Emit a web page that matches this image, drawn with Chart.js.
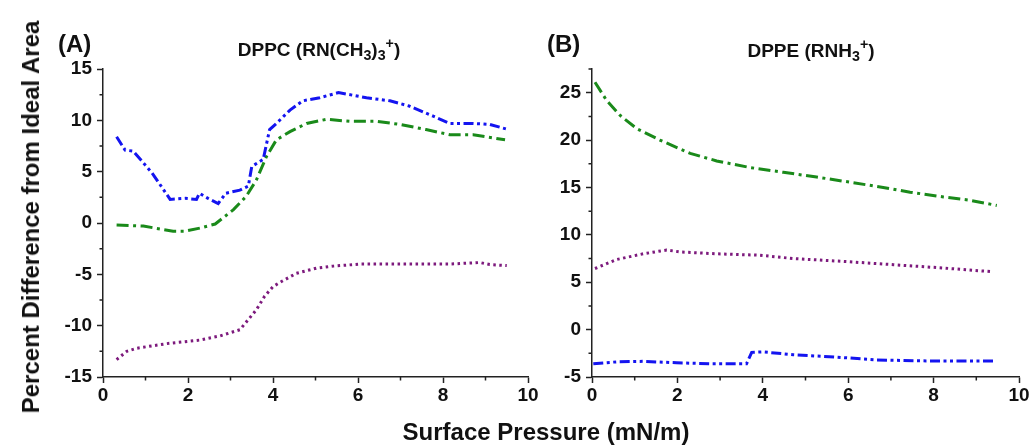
<!DOCTYPE html>
<html lang="en">
<head>
  <meta charset="UTF-8">
  <title>Percent Difference from Ideal Area</title>
  <script src="https://cdn.jsdelivr.net/npm/chart.js"></script>
  <style>
    body {
      margin: 0;
      background: #ffffff;
      font-family: 'Liberation Sans', Arial, sans-serif;
    }
    #wrap {
      position: relative;
      width: 1031px;
      height: 447px;
      overflow: hidden;
    }
    canvas { position: absolute; top: 0; }
    #chartA { left: 0; }
    #chartB { left: 545px; }
    .lbl {
      position: absolute;
      font-weight: bold;
      color: #111;
      white-space: nowrap;
      transform: translate(-50%, -50%);
      line-height: 1;
    }
    .lbl sub, .lbl sup { font-size: 0.75em; line-height: 0; }
    .panel-letter { font-size: 24px; transform: translate(0, -50%); }
    .panel-title { font-size: 19px; }
    .axis-title { font-size: 24px; }
    #yTitle { transform: translate(-50%, -50%) rotate(-90deg); }
  </style>
</head>
<body>
  <div id="wrap">
    <canvas id="chartA" width="545" height="447"></canvas>
    <canvas id="chartB" width="486" height="447"></canvas>

    <div class="lbl panel-letter" style="left:58px; top:44px;">(A)</div>
    <div class="lbl panel-title" style="left:319px; top:49px;">DPPC (RN(CH<sub>3</sub>)<sub>3</sub><sup>+</sup>)</div>
    <div class="lbl panel-letter" style="left:547px; top:44px;">(B)</div>
    <div class="lbl panel-title" style="left:811px; top:50px;">DPPE (RNH<sub>3</sub><sup>+</sup>)</div>

    <div class="lbl axis-title" id="yTitle" style="left:31px; top:217px;">Percent Difference from Ideal Area</div>
    <div class="lbl axis-title" style="left:546px; top:432px;">Surface Pressure (mN/m)</div>
  </div>

  <script>
    // Panel A - DPPC
    const aBlueX = [0.32, 0.52, 0.71, 1.15, 1.58, 1.93, 2.2, 2.27, 2.47, 2.71, 2.89, 3.22, 3.42, 3.5, 3.77, 3.92, 4.08, 4.4, 4.7, 5.1, 5.54, 6.2, 6.75, 7.2, 7.77, 8.16, 8.71, 9.1, 9.54];
    const aBlueY = [8.4, 7.1, 7.0, 4.9, 2.3, 2.4, 2.3, 2.9, 2.4, 1.9, 2.9, 3.2, 3.6, 5.5, 6.2, 9.1, 9.7, 11.0, 11.9, 12.2, 12.7, 12.2, 11.9, 11.4, 10.4, 9.7, 9.7, 9.6, 9.1];

    const aGreenX = [0.32, 0.95, 1.65, 1.93, 2.28, 2.64, 3.07, 3.37, 3.61, 3.85, 4.08, 4.4, 4.79, 5.26, 5.81, 6.44, 6.99, 7.6, 8.16, 8.71, 9.46];
    const aGreenY = [-0.2, -0.3, -0.8, -0.8, -0.5, -0.1, 1.3, 2.6, 4.2, 6.5, 8.1, 8.9, 9.7, 10.1, 9.9, 9.9, 9.6, 9.1, 8.6, 8.6, 8.1];

    const aPurpleX = [0.32, 0.56, 0.79, 1.5, 2.28, 2.75, 3.22, 3.42, 3.61, 3.8, 4.0, 4.2, 4.55, 5.02, 5.42, 6.05, 6.99, 8.16, 8.87, 9.1, 9.5];
    const aPurpleY = [-13.3, -12.5, -12.2, -11.75, -11.4, -11.0, -10.4, -9.4, -8.45, -7.15, -6.2, -5.7, -4.9, -4.4, -4.2, -4.0, -4.0, -4.0, -3.85, -4.05, -4.15];

    // Panel B - DPPE
    const bGreenX = [0.07, 0.34, 0.66, 1.05, 1.59, 2.3, 2.92, 3.7, 4.48, 5.26, 6.12, 6.82, 7.45, 8.23, 8.85, 9.48];
    const bGreenY = [26.1, 24.2, 22.6, 21.2, 20.0, 18.6, 17.8, 17.1, 16.6, 16.1, 15.5, 15.0, 14.5, 14.0, 13.65, 13.1];

    const bPurpleX = [0.07, 0.58, 1.2, 1.75, 2.06, 2.92, 3.93, 4.71, 5.88, 7.06, 8.23, 9.4];
    const bPurpleY = [6.45, 7.4, 8.0, 8.4, 8.2, 8.0, 7.85, 7.5, 7.2, 6.85, 6.5, 6.1];

    const bBlueX = [0.03, 0.58, 1.2, 1.98, 2.76, 3.62, 3.74, 4.01, 4.71, 5.72, 6.66, 7.83, 9.4];
    const bBlueY = [-3.6, -3.4, -3.35, -3.5, -3.6, -3.6, -2.4, -2.35, -2.65, -2.9, -3.2, -3.3, -3.3];

    // minor tick positions
    const xMinor = [1, 3, 5, 7, 9];
    const aYMinor = [-12.5, -7.5, -2.5, 2.5, 7.5, 12.5];
    const bYMinor = [-2.5, 2.5, 7.5, 12.5, 17.5, 22.5, 27.5];

    const BLUE = '#1414f0';
    const GREEN = '#1a8a1a';
    const PURPLE = '#7d1a7d';
    const AXIS = '#222';
    const FONT = "'Liberation Sans', Arial, sans-serif";

    const pts = (xs, ys) => xs.map((x, i) => ({ x: x, y: ys[i] }));

    const line = (xs, ys, color, dash) => ({
      data: pts(xs, ys),
      showLine: true,
      borderColor: color,
      borderWidth: 3,
      borderDash: dash,
      pointRadius: 0,
      fill: false,
      tension: 0
    });

    const dashDotDot = [10, 3.5, 3, 3.5, 3, 3.5];
    const dashDot = [12, 4.5, 3, 4.5];
    const dotted = [2.5, 3.5];

    // short outward minor ticks, placed through the chart's own scales
    const minorTicks = {
      id: 'minorTicks',
      afterDraw(chart, args, opts) {
        const { ctx, chartArea } = chart;
        const x = chart.scales.x, y = chart.scales.y;
        ctx.save();
        ctx.strokeStyle = AXIS;
        ctx.lineWidth = 1.5;
        ctx.beginPath();
        opts.x.forEach(v => {
          const px = x.getPixelForValue(v);
          ctx.moveTo(px, chartArea.bottom);
          ctx.lineTo(px, chartArea.bottom + 3.5);
        });
        opts.y.forEach(v => {
          const py = y.getPixelForValue(v);
          ctx.moveTo(chartArea.left, py);
          ctx.lineTo(chartArea.left - 3.5, py);
        });
        ctx.stroke();
        ctx.restore();
      }
    };

    const tickFont = { family: FONT, size: 19, weight: 'bold' };

    const makeScales = (yMin, yMax, yWidth) => ({
      x: {
        type: 'linear',
        min: 0,
        max: 10,
        ticks: { stepSize: 2, color: '#111', font: tickFont, padding: 1, maxRotation: 0 },
        grid: { drawOnChartArea: false, drawTicks: true, tickLength: 6, tickColor: AXIS, tickWidth: 1.5 },
        border: { display: true, color: AXIS, width: 1.5 },
        afterFit: s => { s.height = 70; }
      },
      y: {
        type: 'linear',
        min: yMin,
        max: yMax,
        ticks: { stepSize: 5, color: '#111', font: tickFont, padding: 5 },
        grid: { drawOnChartArea: false, drawTicks: true, tickLength: 6, tickColor: AXIS, tickWidth: 1.5 },
        border: { display: true, color: AXIS, width: 1.5 },
        afterBuildTicks: s => { s.ticks = s.ticks.filter(t => t.value % 5 === 0); },
        afterFit: s => { s.width = yWidth; }
      }
    });

    const baseOptions = (scales, padding, yMinor) => ({
      responsive: false,
      animation: false,
      layout: { padding: padding },
      plugins: {
        legend: { display: false },
        tooltip: { enabled: false },
        minorTicks: { x: xMinor, y: yMinor }
      },
      scales: scales
    });

    new Chart(document.getElementById('chartA'), {
      type: 'scatter',
      data: {
        datasets: [
          line(aBlueX, aBlueY, BLUE, dashDotDot),
          line(aGreenX, aGreenY, GREEN, dashDot),
          line(aPurpleX, aPurpleY, PURPLE, dotted)
        ]
      },
      options: baseOptions(makeScales(-15, 15, 103), { left: 0, top: 69, right: 17, bottom: 0 }, aYMinor),
      plugins: [minorTicks]
    });

    new Chart(document.getElementById('chartB'), {
      type: 'scatter',
      data: {
        datasets: [
          line(bBlueX, bBlueY, BLUE, dashDotDot),
          line(bGreenX, bGreenY, GREEN, dashDot),
          line(bPurpleX, bPurpleY, PURPLE, dotted)
        ]
      },
      options: baseOptions(makeScales(-5, 27.5, 47), { left: 0, top: 69, right: 12, bottom: 0 }, bYMinor),
      plugins: [minorTicks]
    });
  </script>
</body>
</html>
